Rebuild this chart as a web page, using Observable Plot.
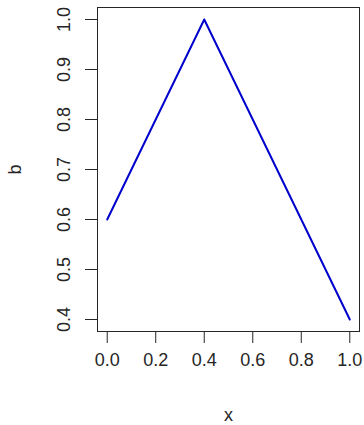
<!DOCTYPE html>
<html>
<head>
<meta charset="utf-8">
<script src="https://cdn.jsdelivr.net/npm/d3@7"></script>
<script src="https://cdn.jsdelivr.net/npm/@observablehq/plot@0.6"></script>
<style>
  html, body { margin: 0; padding: 0; background: #fff; }
</style>
</head>
<body>
<div id="chart"></div>
<script>
const xs = [0, 0.02, 0.06, 0.26, 0.40, 0.49, 0.73, 0.97, 1.0];
const bs = [0.60, 0.62, 0.66, 0.86, 1.00, 0.91, 0.67, 0.43, 0.40];
const xTicks = [0, 0.2, 0.4, 0.6, 0.8, 1.0];
const yTicks = [0.4, 0.5, 0.6, 0.7, 0.8, 0.9, 1.0];
const xLabel = "x";
const yLabel = "b";

const data = xs.map((x, i) => ({x, b: bs[i]}));
const fmt = d3.format(".1f");
const ink = "#262626";

const chart = Plot.plot({
  width: 364,
  height: 425,
  marginLeft: 97,
  marginRight: 5,
  marginTop: 7,
  marginBottom: 94,
  style: {fontFamily: "Liberation Sans, Arial, sans-serif", fontSize: "18px", color: ink, background: "#fff"},
  x: {domain: [-0.04, 1.04]},
  y: {domain: [0.376, 1.024]},
  marks: [
    Plot.axisX({ticks: xTicks, tickSize: 12, tickPadding: 10, tickFormat: fmt, label: null, stroke: ink, fill: ink}),
    Plot.axisY({ticks: yTicks, tickSize: 12, tickFormat: () => "", label: null, stroke: ink}),
    Plot.text(yTicks, {y: d => d, text: d => fmt(d), frameAnchor: "left", rotate: -90, textAnchor: "middle", lineAnchor: "middle", dx: -33, fill: ink}),
    Plot.frame({stroke: ink}),
    Plot.line(data, {x: "x", y: "b", stroke: "#0000CD", strokeWidth: 2}),
    Plot.text([xLabel], {text: d => d, frameAnchor: "bottom", textAnchor: "middle", lineAnchor: "middle", dy: 84, fill: ink}),
    Plot.text([yLabel], {text: d => d, frameAnchor: "left", rotate: -90, textAnchor: "middle", lineAnchor: "middle", dx: -82, fill: ink})
  ]
});
document.getElementById("chart").appendChild(chart);
</script>
</body>
</html>
